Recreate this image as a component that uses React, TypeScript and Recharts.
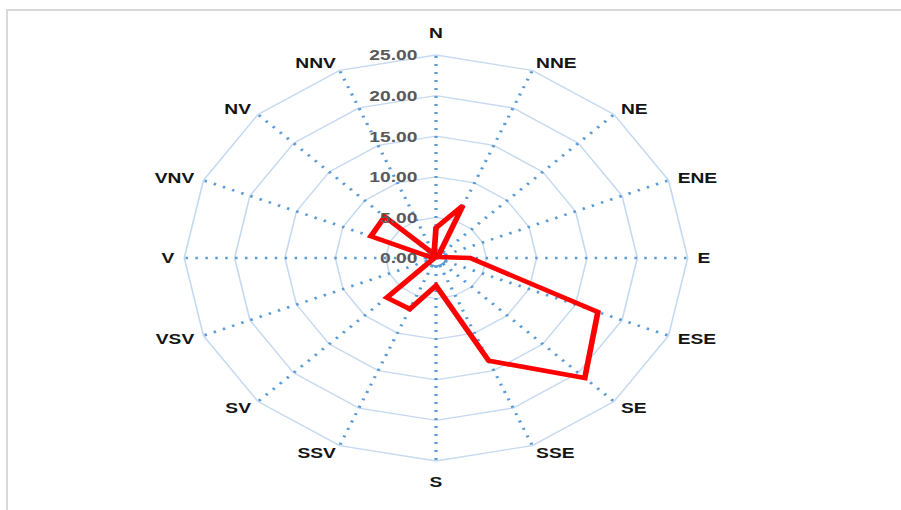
import React from "react";
import { RadarChart, Radar, PolarGrid, PolarAngleAxis, PolarRadiusAxis } from "recharts";

const directions = ["N", "NNE", "NE", "ENE", "E", "ESE", "SE", "SSE", "S", "SSV", "SV", "VSV", "V", "VNV", "NV", "NNV"];
const frequencies = [3.7, 7.0, 0.3, 0.3, 3.4, 17.4, 20.9, 13.7, 3.4, 6.8, 6.9, 0.3, 0.3, 7.0, 7.2, 0.5];
const radiusTicks = [0, 5, 10, 15, 20, 25];

const data = directions.map((d, i) => ({ dir: d, v: frequencies[i] }));

const SCALE_X = 1.24;
const FONT = "'Liberation Sans', Arial, sans-serif";

const AngleTick = (props: any) => {
  const { x, y, payload, textAnchor } = props;
  let dy = 0;
  if (payload.value === "N") dy = -14;
  if (payload.value === "S") dy = 13;
  return (
    <text
      x={x}
      y={y + dy}
      textAnchor={textAnchor}
      dominantBaseline="central"
      fontFamily={FONT}
      fontSize={15.5}
      fontWeight="bold"
      fill="#141414"
    >
      {payload.value}
    </text>
  );
};

const RadiusTick = (props: any) => {
  const { x, y, payload } = props;
  return (
    <text
      x={x - 15}
      y={y}
      textAnchor="end"
      dominantBaseline="central"
      fontFamily={FONT}
      fontSize={15.5}
      fontWeight="bold"
      fill="#595959"
    >
      {Number(payload.value).toFixed(2)}
    </text>
  );
};

export default function App() {
  return (
    <div style={{ position: "fixed", left: 0, top: 0, width: 901, height: 510, overflow: "hidden", background: "#fff" }}>
      <div
        style={{
          position: "absolute",
          left: 6,
          top: 9,
          width: 1000,
          height: 600,
          borderTop: "2px solid #d9d9d9",
          borderLeft: "2px solid #d9d9d9",
        }}
      />
      <div style={{ position: "absolute", left: 0, top: 0, transform: `scaleX(${SCALE_X})`, transformOrigin: "0 0" }}>
        <RadarChart
          width={727}
          height={510}
          cx={351.6}
          cy={258}
          outerRadius={203}
          data={data}
          margin={{ top: 0, right: 0, bottom: 0, left: 0 }}
        >
          <PolarGrid gridType="polygon" radialLines={false} stroke="#c5d9f0" strokeWidth={1.3} />
          <PolarGrid
            gridType="polygon"
            polarRadius={[0]}
            radialLines={true}
            stroke="#5b9bd5"
            strokeWidth={2.6}
            strokeDasharray="2 6"
          />
          <PolarGrid gridType="circle" polarRadius={[8]} radialLines={false} stroke="#5b9bd5" strokeWidth={1.6} />
          <PolarAngleAxis dataKey="dir" tick={<AngleTick />} tickLine={false} axisLine={false} />
          <PolarRadiusAxis
            angle={90}
            domain={[0, 25]}
            ticks={radiusTicks as any}
            tickCount={6}
            axisLine={false}
            tickLine={false}
            tick={<RadiusTick />}
          />
          <Radar
            dataKey="v"
            stroke="#ff0000"
            strokeWidth={4.6}
            strokeLinejoin="miter"
            fill="none"
            fillOpacity={0}
            dot={false}
            isAnimationActive={false}
          />
        </RadarChart>
      </div>
    </div>
  );
}
